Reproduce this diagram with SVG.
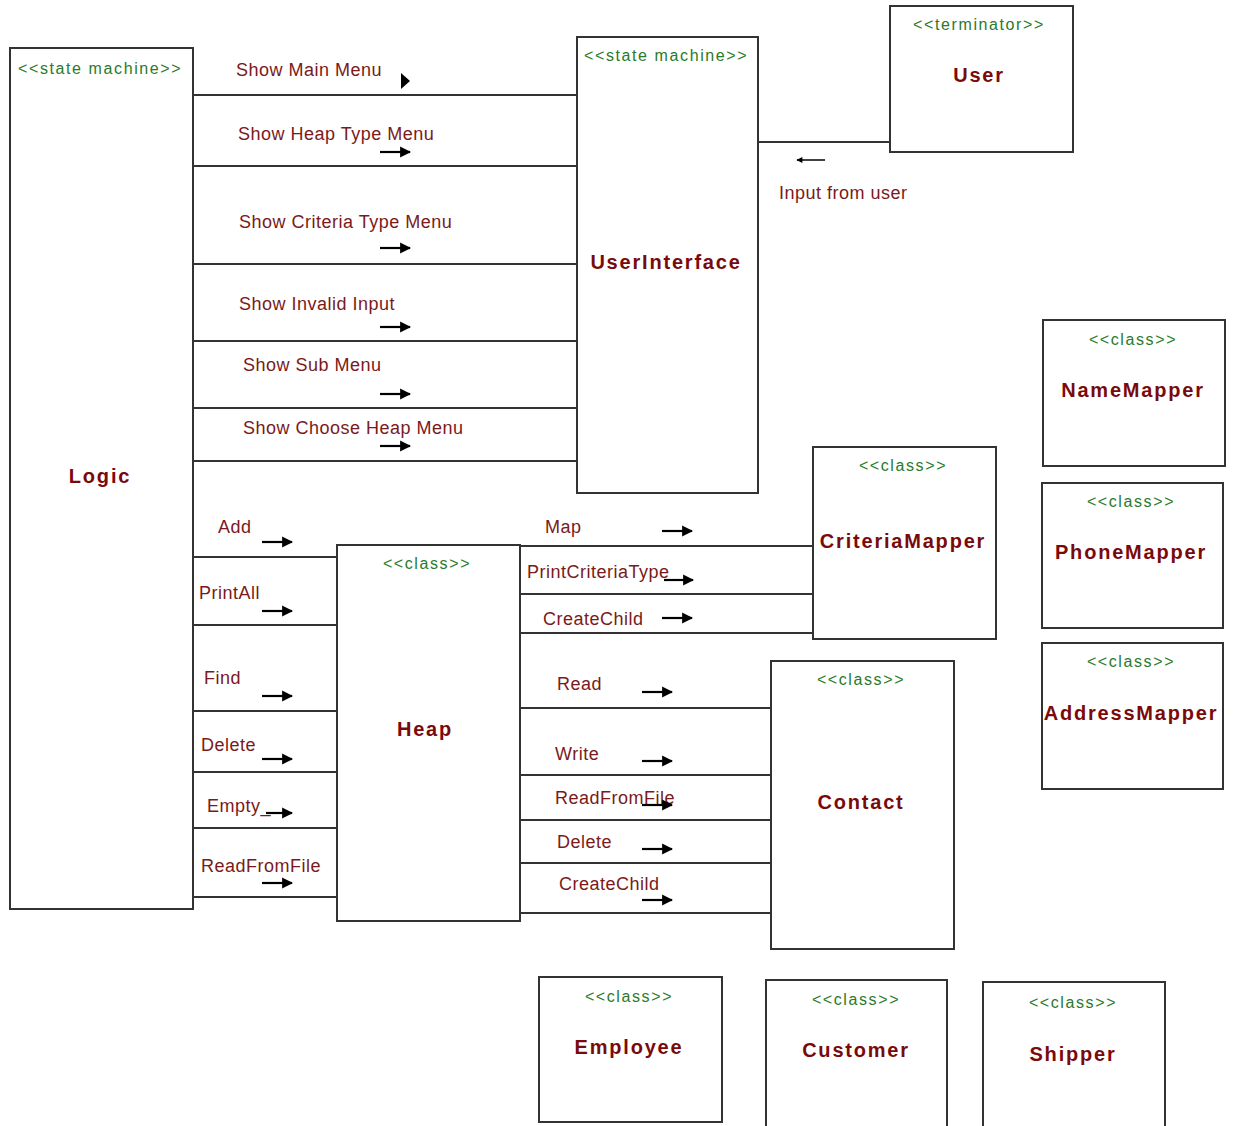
<svg xmlns="http://www.w3.org/2000/svg" width="1238" height="1126" viewBox="0 0 1238 1126">
  <defs>
    <marker id="head" viewBox="0 0 10 10" refX="9" refY="5" markerWidth="11" markerHeight="13" markerUnits="userSpaceOnUse" orient="auto">
      <path d="M0,0 L10,5 L0,10 Z" fill="#000"/>
    </marker>
    <marker id="head-small" viewBox="0 0 10 10" refX="9" refY="5" markerWidth="7" markerHeight="6" markerUnits="userSpaceOnUse" orient="auto">
      <path d="M0,0 L10,5 L0,10 Z" fill="#000"/>
    </marker>
  </defs>
  <style>
    .box { fill: #fff; stroke: #333; stroke-width: 2; }
    .link { stroke: #333; stroke-width: 2; fill: none; }
    .arrow { stroke: #000; stroke-width: 2.2; fill: none; marker-end: url(#head); }
    .stereo { font-family: "Liberation Sans", Arial, sans-serif; font-size: 16px; fill: #2a7a2a; letter-spacing: 1.6px; }
    .title { font-family: "Liberation Sans", Arial, sans-serif; font-size: 20px; font-weight: bold; fill: #7a0a0a; letter-spacing: 1.8px; text-anchor: middle; }
    .lbl { font-family: "Liberation Sans", Arial, sans-serif; font-size: 18px; fill: #7a1a1a; letter-spacing: 0.5px; }
    .mid { text-anchor: middle; }
  </style>
  <rect width="1238" height="1126" fill="#fff"/>

  <!-- connectors between the blocks -->
  <g id="connectors">
    <!-- Logic -> UserInterface -->
    <line class="link" x1="193" y1="95" x2="577" y2="95"/>
    <line class="link" x1="193" y1="166" x2="577" y2="166"/>
    <line class="link" x1="193" y1="264" x2="577" y2="264"/>
    <line class="link" x1="193" y1="341" x2="577" y2="341"/>
    <line class="link" x1="193" y1="408" x2="577" y2="408"/>
    <line class="link" x1="193" y1="461" x2="577" y2="461"/>
    <!-- UserInterface <- User -->
    <line class="link" x1="758" y1="142" x2="890" y2="142"/>
    <!-- Logic -> Heap -->
    <line class="link" x1="193" y1="557" x2="337" y2="557"/>
    <line class="link" x1="193" y1="625" x2="337" y2="625"/>
    <line class="link" x1="193" y1="711" x2="337" y2="711"/>
    <line class="link" x1="193" y1="772" x2="337" y2="772"/>
    <line class="link" x1="193" y1="828" x2="337" y2="828"/>
    <line class="link" x1="193" y1="897" x2="337" y2="897"/>
    <!-- Heap -> CriteriaMapper -->
    <line class="link" x1="520" y1="546" x2="813" y2="546"/>
    <line class="link" x1="520" y1="594" x2="813" y2="594"/>
    <line class="link" x1="520" y1="633" x2="813" y2="633"/>
    <!-- Heap -> Contact -->
    <line class="link" x1="520" y1="708" x2="771" y2="708"/>
    <line class="link" x1="520" y1="775" x2="771" y2="775"/>
    <line class="link" x1="520" y1="820" x2="771" y2="820"/>
    <line class="link" x1="520" y1="863" x2="771" y2="863"/>
    <line class="link" x1="520" y1="913" x2="771" y2="913"/>

    <!-- message labels and direction arrows -->
    <text class="lbl" x="236" y="76">Show Main Menu</text>
    <path d="M401,73 L410,81 L401,89 Z" fill="#000"/>
    <text class="lbl" x="238" y="140">Show Heap Type Menu</text>
    <line class="arrow" x1="380" y1="152" x2="410" y2="152"/>
    <text class="lbl" x="239" y="228">Show Criteria Type Menu</text>
    <line class="arrow" x1="380" y1="248" x2="410" y2="248"/>
    <text class="lbl" x="239" y="310">Show Invalid Input</text>
    <line class="arrow" x1="380" y1="327" x2="410" y2="327"/>
    <text class="lbl" x="243" y="371">Show Sub Menu</text>
    <line class="arrow" x1="380" y1="394" x2="410" y2="394"/>
    <text class="lbl" x="243" y="434">Show Choose Heap Menu</text>
    <line class="arrow" x1="380" y1="446" x2="410" y2="446"/>

    <line x1="825" y1="160" x2="797" y2="160" stroke="#000" stroke-width="1.5" marker-end="url(#head-small)"/>
    <text class="lbl" x="779" y="199">Input from user</text>

    <text class="lbl" x="218" y="533">Add</text>
    <line class="arrow" x1="262" y1="542" x2="292" y2="542"/>
    <text class="lbl" x="199" y="599">PrintAll</text>
    <line class="arrow" x1="262" y1="611" x2="292" y2="611"/>
    <text class="lbl" x="204" y="684">Find</text>
    <line class="arrow" x1="262" y1="696" x2="292" y2="696"/>
    <text class="lbl" x="201" y="751">Delete</text>
    <line class="arrow" x1="262" y1="759" x2="292" y2="759"/>
    <text class="lbl" x="207" y="812">Empty_</text>
    <line class="arrow" x1="266" y1="813" x2="292" y2="813"/>
    <text class="lbl" x="201" y="872">ReadFromFile</text>
    <line class="arrow" x1="262" y1="883" x2="292" y2="883"/>

    <text class="lbl" x="545" y="533">Map</text>
    <line class="arrow" x1="662" y1="531" x2="692" y2="531"/>
    <text class="lbl" x="527" y="578">PrintCriteriaType</text>
    <line class="arrow" x1="664" y1="580" x2="693" y2="580"/>
    <text class="lbl" x="543" y="625">CreateChild</text>
    <line class="arrow" x1="662" y1="618" x2="692" y2="618"/>

    <text class="lbl" x="557" y="690">Read</text>
    <line class="arrow" x1="642" y1="692" x2="672" y2="692"/>
    <text class="lbl" x="555" y="760">Write</text>
    <line class="arrow" x1="642" y1="761" x2="672" y2="761"/>
    <text class="lbl" x="555" y="804">ReadFromFile</text>
    <line class="arrow" x1="642" y1="805" x2="672" y2="805"/>
    <text class="lbl" x="557" y="848">Delete</text>
    <line class="arrow" x1="642" y1="849" x2="672" y2="849"/>
    <text class="lbl" x="559" y="890">CreateChild</text>
    <line class="arrow" x1="642" y1="900" x2="672" y2="900"/>
  </g>

  <g id="logic">
    <rect class="box" x="10" y="48" width="183" height="861"/>
    <text class="stereo" x="18" y="74">&lt;&lt;state machine&gt;&gt;</text>
    <text class="title" x="100" y="483">Logic</text>
  </g>

  <g id="user-interface">
    <rect class="box" x="577" y="37" width="181" height="456"/>
    <text class="stereo" x="584" y="61">&lt;&lt;state machine&gt;&gt;</text>
    <text class="title" x="666" y="269">UserInterface</text>
  </g>

  <g id="user">
    <rect class="box" x="890" y="6" width="183" height="146"/>
    <text class="stereo mid" x="979" y="30">&lt;&lt;terminator&gt;&gt;</text>
    <text class="title" x="979" y="82">User</text>
  </g>

  <g id="heap">
    <rect class="box" x="337" y="545" width="183" height="376"/>
    <text class="stereo mid" x="427" y="569">&lt;&lt;class&gt;&gt;</text>
    <text class="title" x="425" y="736">Heap</text>
  </g>

  <g id="criteria-mapper">
    <rect class="box" x="813" y="447" width="183" height="192"/>
    <text class="stereo mid" x="903" y="471">&lt;&lt;class&gt;&gt;</text>
    <text class="title" x="903" y="548">CriteriaMapper</text>
  </g>

  <g id="contact">
    <rect class="box" x="771" y="661" width="183" height="288"/>
    <text class="stereo mid" x="861" y="685">&lt;&lt;class&gt;&gt;</text>
    <text class="title" x="861" y="809">Contact</text>
  </g>

  <g id="name-mapper">
    <rect class="box" x="1043" y="320" width="182" height="146"/>
    <text class="stereo mid" x="1133" y="345">&lt;&lt;class&gt;&gt;</text>
    <text class="title" x="1133" y="397">NameMapper</text>
  </g>

  <g id="phone-mapper">
    <rect class="box" x="1042" y="483" width="181" height="145"/>
    <text class="stereo mid" x="1131" y="507">&lt;&lt;class&gt;&gt;</text>
    <text class="title" x="1131" y="559">PhoneMapper</text>
  </g>

  <g id="address-mapper">
    <rect class="box" x="1042" y="643" width="181" height="146"/>
    <text class="stereo mid" x="1131" y="667">&lt;&lt;class&gt;&gt;</text>
    <text class="title" x="1131" y="720">AddressMapper</text>
  </g>

  <g id="employee">
    <rect class="box" x="539" y="977" width="183" height="145"/>
    <text class="stereo mid" x="629" y="1002">&lt;&lt;class&gt;&gt;</text>
    <text class="title" x="629" y="1054">Employee</text>
  </g>

  <g id="customer">
    <rect class="box" x="766" y="980" width="181" height="150"/>
    <text class="stereo mid" x="856" y="1005">&lt;&lt;class&gt;&gt;</text>
    <text class="title" x="856" y="1057">Customer</text>
  </g>

  <g id="shipper">
    <rect class="box" x="983" y="982" width="182" height="150"/>
    <text class="stereo mid" x="1073" y="1008">&lt;&lt;class&gt;&gt;</text>
    <text class="title" x="1073" y="1061">Shipper</text>
  </g>
</svg>
